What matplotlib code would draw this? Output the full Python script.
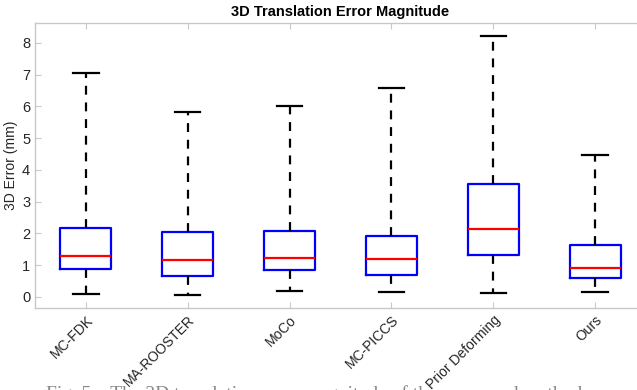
import numpy as np
import matplotlib
matplotlib.use("Agg")
import matplotlib.pyplot as plt

# Box statistics (mm)
methods = ["MC-FDK", "MA-ROOSTER", "MoCo", "MC-PICCS", "Prior Deforming", "Ours"]
whisker_low = [0.09, 0.05, 0.20, 0.14, 0.12, 0.15]
q1 = [0.87, 0.65, 0.84, 0.70, 1.32, 0.59]
median = [1.30, 1.16, 1.23, 1.19, 2.15, 0.91]
q3 = [2.17, 2.03, 2.07, 1.93, 3.55, 1.63]
whisker_high = [7.05, 5.81, 6.02, 6.59, 8.23, 4.48]

plt.rcParams['font.family'] = ['Liberation Sans', 'DejaVu Sans']

stats = []
for i, name in enumerate(methods):
    stats.append(dict(label=name, whislo=whisker_low[i], q1=q1[i], med=median[i],
                      q3=q3[i], whishi=whisker_high[i], fliers=[]))

fig = plt.figure(figsize=(6.37, 3.90), dpi=100)
ax = fig.add_axes([35 / 637, 1 - 308 / 390, 611 / 637, 285 / 390])

ax.bxp(stats, positions=np.arange(1, len(methods) + 1), widths=0.5,
       showfliers=False,
       boxprops=dict(color='blue', linewidth=1.6),
       medianprops=dict(color='red', linewidth=1.6),
       whiskerprops=dict(color='black', linewidth=1.6, linestyle=(0, (4, 3.5))),
       capprops=dict(color='black', linewidth=1.6),
       capwidths=0.25)

ax.set_xlim(0.5, 6.5)
ax.set_ylim(-0.35, 8.63)
ax.set_yticks(range(0, 9))
ax.set_xticks(np.arange(1, len(methods) + 1))
ax.set_xticklabels(methods, rotation=45, ha='right', va='top', rotation_mode='anchor')

for s in ax.spines.values():
    s.set_color('#c8c8c8')
    s.set_linewidth(1.0)
ax.tick_params(direction='in', length=4, color='#c8c8c8', labelcolor='#262626',
               labelsize=10, top=True, right=True)
ax.tick_params(axis='y', labelsize=10.5)
ax.set_ylabel('3D Error (mm)', fontsize=10, color='#262626', labelpad=3)
ax.set_title('3D Translation Error Magnitude', fontsize=10.5, fontweight='bold', pad=5)

# caption of the paper, cut off by the crop
fig.text(0.5, 1 - 385 / 390, 'Fig. 5.   The 3D translation error magnitude of the compared methods',
         ha='center', va='top', fontsize=14, color='#888888', family='Liberation Serif')

fig.savefig('out.png', dpi=100)
